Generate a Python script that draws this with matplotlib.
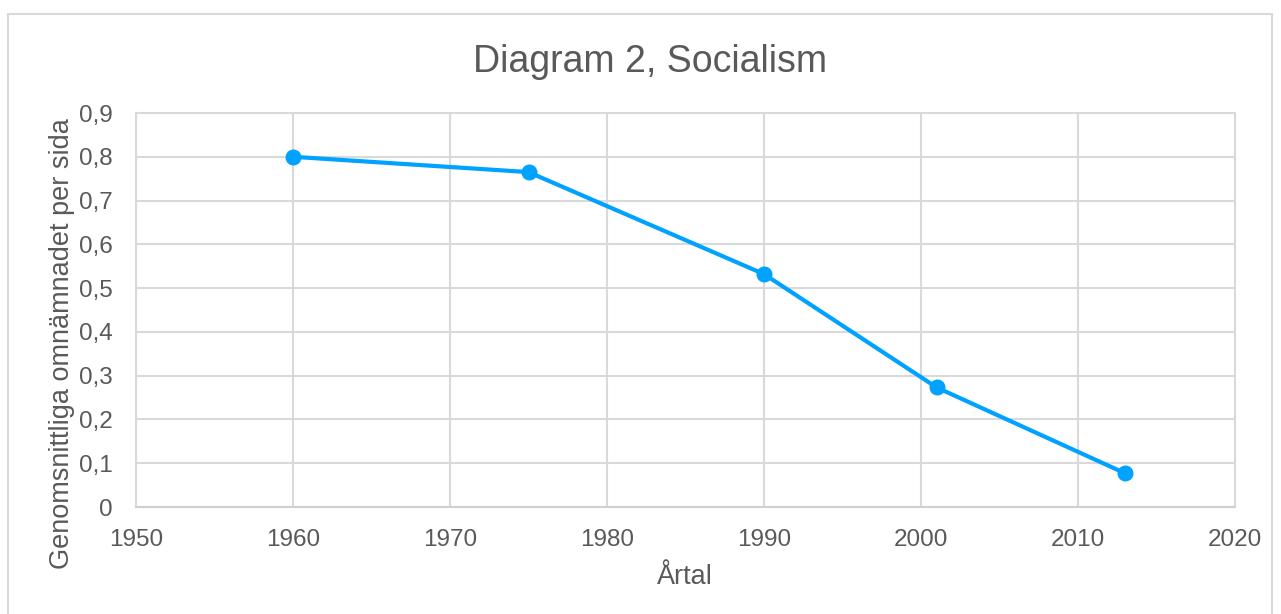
import matplotlib
matplotlib.use("Agg")
import matplotlib.pyplot as plt
from matplotlib.patches import Rectangle

years = [1960, 1975, 1990, 2001, 2013]
values = [0.80, 0.765, 0.532, 0.273, 0.077]
x_ticks = [1950, 1960, 1970, 1980, 1990, 2000, 2010, 2020]
y_ticks = [0, 0.1, 0.2, 0.3, 0.4, 0.5, 0.6, 0.7, 0.8, 0.9]
y_tick_labels = ["0", "0,1", "0,2", "0,3", "0,4", "0,5", "0,6", "0,7", "0,8", "0,9"]
title = "Diagram 2, Socialism"
xlabel = "Årtal"
ylabel = "Genomsnittliga omnämnadet per sida"

W, H = 1281, 614
plt.rcParams['font.family'] = ['Liberation Sans', 'DejaVu Sans']
fig = plt.figure(figsize=(W / 100, H / 100), dpi=100)
txt = '#595959'
grid = '#d9d9d9'

# outer chart border
fig.patches.append(Rectangle((8 / W, -0.01), (1272 - 8) / W, 1 - 14 / H + 0.01,
                             transform=fig.transFigure, fill=False,
                             edgecolor=grid, linewidth=1.5))

l, r, t, b = 136, 1235, 113, 507
ax = fig.add_axes([l / W, 1 - b / H, (r - l) / W, (b - t) / H])
ax.plot(years, values, color='#00a2ff', linewidth=3, marker='o', markersize=10.5,
        solid_capstyle='round', zorder=3)
ax.set_xlim(1950, 2020)
ax.set_ylim(0, 0.9)
ax.set_xticks(x_ticks)
ax.set_xticklabels([str(v) for v in x_ticks])
ax.set_yticks(y_ticks)
ax.set_yticklabels(y_tick_labels)
ax.grid(True, color=grid, linewidth=1.5)
ax.set_axisbelow(True)
for s in ax.spines.values():
    s.set_color(grid)
    s.set_linewidth(1.5)
ax.spines['bottom'].set_color('#cfcfcf')
ax.tick_params(axis='x', length=0, labelsize=17.5, colors=txt, pad=16)
ax.tick_params(axis='y', length=0, labelsize=17.5, colors=txt, pad=17)
fig.text(685 / W, 1 - 577 / H, xlabel, fontsize=19.5, color=txt, ha='center', va='center')
fig.text(62 / W, 1 - 344 / H, ylabel, fontsize=19.5, color=txt, ha='center', va='center',
         rotation=90)
fig.text(650 / W, 1 - 62 / H, title, fontsize=27, color=txt, ha='center', va='center')

fig.savefig('out.png', dpi=100)
